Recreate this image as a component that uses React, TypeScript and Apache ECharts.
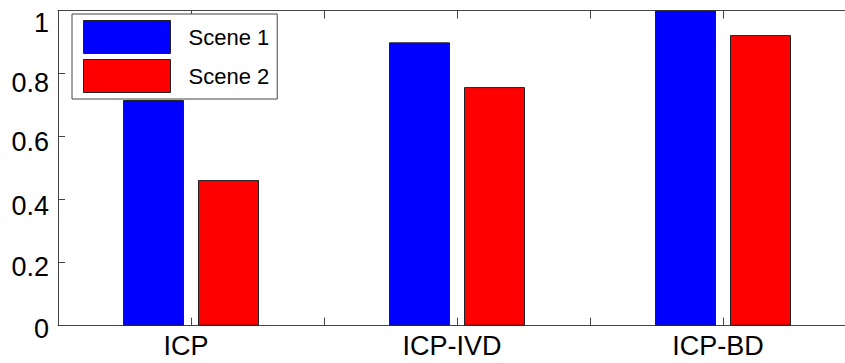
import React, { useEffect, useRef } from "react";
import * as echarts from "echarts";

const categories = ["ICP", "ICP-IVD", "ICP-BD"];
const scene1 = [0.716, 0.899, 1.0];
const scene2 = [0.462, 0.757, 0.922];
const seriesNames = ["Scene 1", "Scene 2"];
const yTicks = [0, 0.2, 0.4, 0.6, 0.8, 1];
const yLabelShift = [3.3, 4.8, 6.2, 5.7, 9, 12];

const FONT = "'Liberation Sans', Arial, Helvetica, sans-serif";

export default function App() {
  const ref = useRef<HTMLDivElement>(null);
  useEffect(() => {
    if (!ref.current) return;
    const chart = echarts.init(ref.current, null, { renderer: "svg" });
    const rich: Record<string, any> = {};
    yTicks.forEach((t, i) => {
      rich["y" + i] = {
        fontSize: 27,
        fontFamily: FONT,
        color: "#000",
        padding: [yLabelShift[i] * 2, 0, 0, 0],
      };
    });
    const toData = (vals: number[]) => vals.map((v, i) => [i + 1, v]);
    chart.setOption({
      animation: false,
      backgroundColor: "#fff",
      grid: {
        left: 58,
        top: 10.5,
        width: 798,
        height: 315.2,
        containLabel: false,
        outerBoundsMode: "none",
      },
      legend: {
        orient: "vertical",
        left: 72,
        top: 14,
        itemWidth: 87,
        itemHeight: 33,
        itemGap: 5,
        padding: [6, 8, 6, 11],
        borderColor: "#444",
        borderWidth: 1,
        backgroundColor: "#fff",
        icon: "rect",
        data: seriesNames,
        itemStyle: { borderColor: "#222", borderWidth: 1 },
        textStyle: {
          fontSize: 22,
          fontFamily: FONT,
          color: "#000",
          padding: [0, 0, 0, 13],
        },
      },
      xAxis: [
        {
          type: "value",
          min: 0.5,
          max: 3.5,
          interval: 0.5,
          position: "bottom",
          axisLine: { show: true, lineStyle: { color: "#444", width: 1 } },
          axisTick: { show: true, inside: true, length: 8, lineStyle: { color: "#444" } },
          splitLine: { show: false },
          axisLabel: {
            fontSize: 27,
            fontFamily: FONT,
            color: "#000",
            margin: 7,
            padding: [0, 10, 0, 0],
            showMinLabel: true,
            showMaxLabel: true,
            formatter: (v: number) =>
              Number.isInteger(v) && v >= 1 && v <= categories.length
                ? categories[v - 1]
                : "",
          },
        },
        {
          type: "value",
          min: 0.5,
          max: 3.5,
          interval: 0.5,
          position: "top",
          axisLine: { show: true, lineStyle: { color: "#444", width: 1 } },
          axisTick: { show: true, inside: true, length: 8, lineStyle: { color: "#444" } },
          splitLine: { show: false },
          axisLabel: { show: false },
        },
      ],
      yAxis: {
        type: "value",
        min: 0,
        max: 1,
        interval: 0.2,
        axisLine: { show: true, lineStyle: { color: "#444", width: 1 } },
        axisTick: { show: true, inside: true, length: 7, lineStyle: { color: "#444" } },
        splitLine: { show: false },
        axisLabel: {
          margin: 9,
          formatter: (v: number) => {
            const i = yTicks.findIndex((t) => Math.abs(t - v) < 1e-6);
            return `{y${i < 0 ? 0 : i}|${Math.round(v * 10) / 10}}`;
          },
          rich,
        },
      },
      series: [
        {
          name: seriesNames[0],
          type: "bar",
          xAxisIndex: 0,
          data: toData(scene1),
          barWidth: 61,
          barGap: "23%",
          itemStyle: { color: "#0000ff", borderColor: "#222", borderWidth: 1 },
        },
        {
          name: seriesNames[1],
          type: "bar",
          xAxisIndex: 0,
          data: toData(scene2),
          barWidth: 61,
          barGap: "23%",
          itemStyle: { color: "#ff0000", borderColor: "#222", borderWidth: 1 },
        },
      ],
    });
    return () => chart.dispose();
  }, []);
  return (
    <div
      ref={ref}
      style={{ position: "absolute", left: 0, top: 0, width: 845, height: 363 }}
    />
  );
}
